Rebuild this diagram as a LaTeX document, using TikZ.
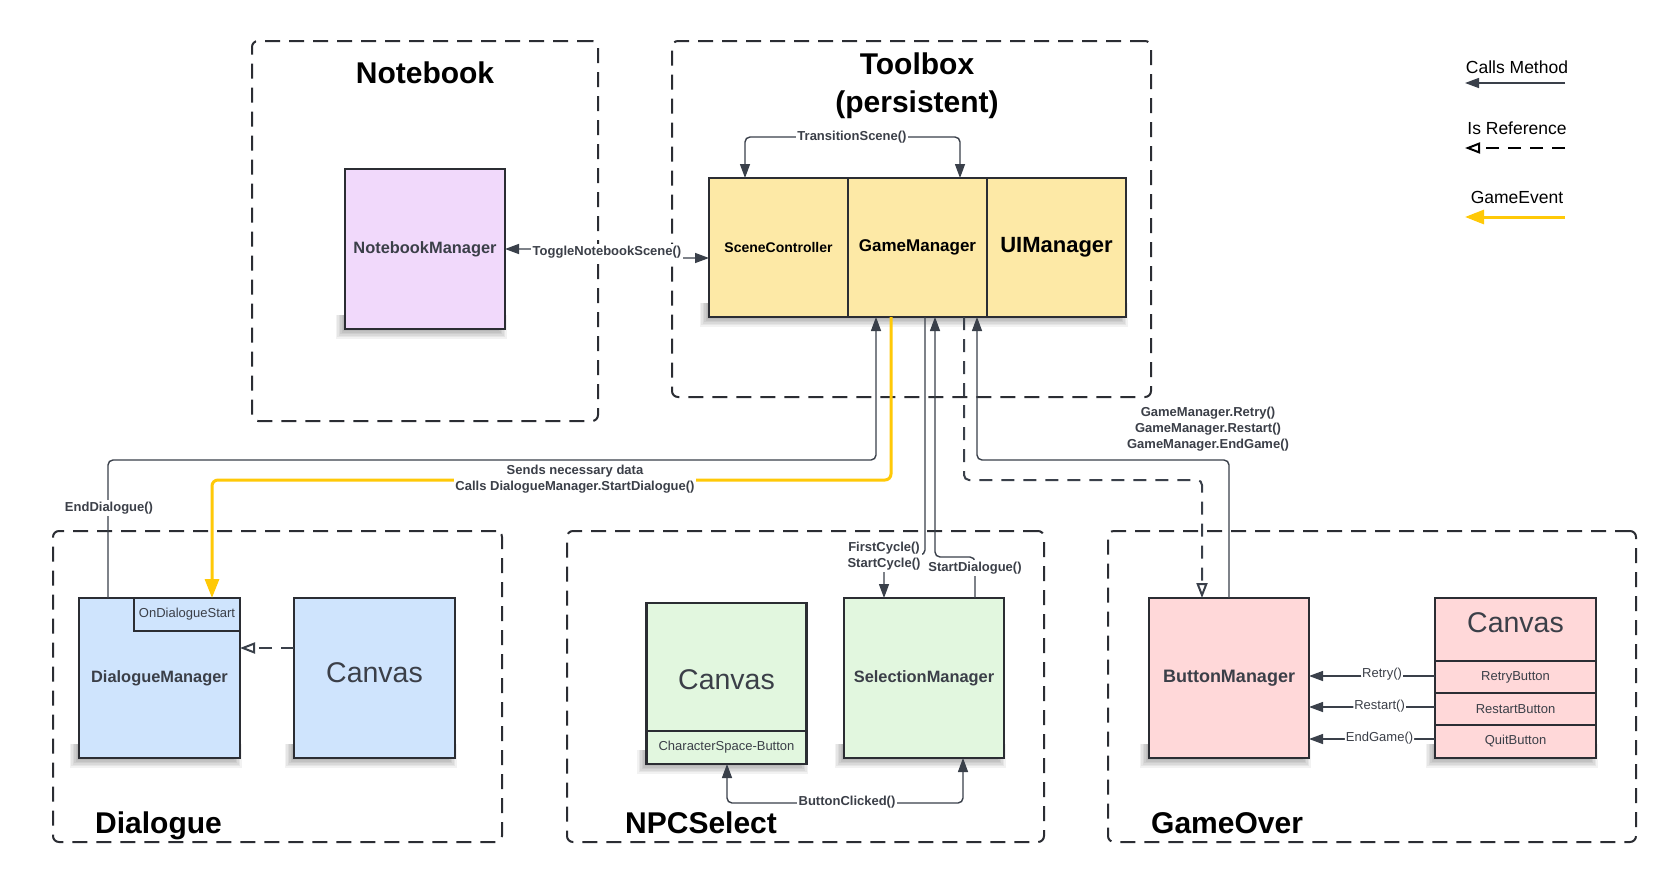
\documentclass[tikz,border=0pt]{standalone}
\usepackage{fontspec}
\setmainfont{Liberation Sans}
\usetikzlibrary{arrows.meta}
\definecolor{ink}{HTML}{2B2D33}
\definecolor{wirec}{HTML}{3A404A}
\definecolor{txtc}{HTML}{3B3F48}
\definecolor{fyel}{HTML}{FDE9A6}
\definecolor{fpur}{HTML}{F1D9FB}
\definecolor{fblu}{HTML}{CFE4FD}
\definecolor{fgrn}{HTML}{E2F7DF}
\definecolor{fpnk}{HTML}{FFD8D9}
\definecolor{gold}{HTML}{FFC907}
\newcommand\fs[2]{\fontsize{#1}{#2}\selectfont}
\newcommand\boxshade[1]{\foreach \k in {0,...,5}{\fill[black, opacity=0.05] ([shift={(-2-1.5*\k,-14)}]#1.south west) rectangle ([shift={(-6+1.5*\k,2+1.5*\k)}]#1.south east);}}
\pgfdeclarelayer{paper}
\pgfdeclarelayer{shade}
\pgfsetlayers{paper,shade,main}
\begin{document}
\begin{tikzpicture}[x=1pt,y=-1pt,
  zone/.style={draw=ink, line width=2pt, dash pattern=on 15pt off 9pt, rounded corners=6pt, inner sep=0pt, outer sep=0pt},
  cbox/.style={draw=ink, line width=2.2pt, inner sep=0pt, outer sep=0pt},
  cell/.style={draw=ink, line width=2.2pt, inner sep=0pt, outer sep=0pt},
  mgr/.style={font=\bfseries\fs{16.4}{20}, text=txtc},
  canv/.style={font=\fs{28.5}{34}, text=txtc, inner sep=0pt},
  smalltxt/.style={font=\fs{13}{16}, text=txtc},
  clab/.style={font=\bfseries\fs{13}{16}, text=txtc, fill=white, inner sep=1.5pt, align=center},
  rlab/.style={font=\fs{13}{16}, text=txtc, fill=white, inner sep=1pt},
  ttl/.style={font=\bfseries\fs{30}{38}, text=black, inner sep=0pt, align=center},
  legt/.style={font=\fs{17.5}{21}, text=black, inner sep=0pt},
  wire/.style={draw=wirec, line width=1.4pt, rounded corners=5pt},
  refw/.style={draw=wirec, line width=2pt, dash pattern=on 13pt off 9pt, rounded corners=5pt},
  evtw/.style={draw=gold, line width=3pt, rounded corners=6pt},
  Call/.tip={Triangle[length=14pt,width=10pt]},
  Ref/.tip={Triangle[open,length=15pt,width=11pt]},
  Evt/.tip={Triangle[length=19pt,width=14pt]},
]
\useasboundingbox (0,0) rectangle (1677,881);
\begin{pgfonlayer}{paper}
\fill[white] (0,0) rectangle (1677,881);
\end{pgfonlayer}

% containers
\node[zone, minimum width=346pt, minimum height=380pt] (nbc) at (425,231) {};
\node[zone, minimum width=479pt, minimum height=356pt] (tbc) at (911.5,219) {};
\node[zone, minimum width=449pt, minimum height=311pt] (dlc) at (277.5,686.5) {};
\node[zone, minimum width=477pt, minimum height=311pt] (npc) at (805.5,686.5) {};
\node[zone, minimum width=528pt, minimum height=311pt] (goc) at (1372,686.5) {};

% titles
\node[ttl] (tnb) at (425,73) {Notebook};
\node[ttl] (ttb) at (917,86) {Toolbox\\(persistent)};
\node[ttl, anchor=base west] (tdl) at (95,833) {Dialogue};
\node[ttl, anchor=base west] (tnp) at (625,833) {NPCSelect};
\node[ttl, anchor=base west] (tgo) at (1151,833) {GameOver};

% boxes
\node[cbox, fill=fpur, minimum width=160pt, minimum height=160pt, mgr] (nbm) at (425,249) {NotebookManager};
\node[cbox, fill=fyel, minimum width=417pt, minimum height=139pt] (tbx) at (917.5,247.5) {};
\node[cell, minimum width=139pt, minimum height=139pt, font=\bfseries\fs{14}{17}, text=black] (sc) at (778.5,247.5) {SceneController};
\node[cell, minimum width=139pt, minimum height=139pt, font=\bfseries\fs{17}{20}, text=black] (gm) at (917.5,247.5) {GameManager};
\node[cell, minimum width=139pt, minimum height=139pt, font=\bfseries\fs{22}{26}, text=black] (ui) at (1056.5,247.5) {UIManager};

\node[cbox, fill=fblu, minimum width=161pt, minimum height=160pt, mgr] (dm) at (159.5,678) {DialogueManager};
\node[cell, minimum width=106pt, minimum height=33pt, smalltxt] (ods) at (187,614.5) {OnDialogueStart};
\node[cbox, fill=fblu, minimum width=161pt, minimum height=160pt] (cd) at (374.5,678) {};
\node[canv] (cdt) at (374.5,673) {Canvas};

\node[cbox, fill=fgrn, minimum width=160pt, minimum height=161pt] (cn) at (726.5,683.5) {};
\node[canv] (cnt) at (726.5,680) {Canvas};
\node[cell, minimum width=160pt, minimum height=33pt, smalltxt] (cnb) at (726.5,747.5) {CharacterSpace-Button};
\node[cbox, fill=fgrn, minimum width=160pt, minimum height=160pt, mgr] (sm) at (924,678) {SelectionManager};

\node[cbox, fill=fpnk, minimum width=160pt, minimum height=160pt, mgr, font=\bfseries\fs{18}{22}] (bm) at (1229,678) {ButtonManager};
\node[cbox, fill=fpnk, minimum width=161pt, minimum height=160pt] (cg) at (1515.5,678) {};
\node[canv] (cgt) at (1515.5,623) {Canvas};
\node[cell, minimum width=161pt, minimum height=32pt, smalltxt] (rb) at (1515.5,677) {RetryButton};
\node[cell, minimum width=161pt, minimum height=32pt, smalltxt] (rsb) at (1515.5,709) {RestartButton};
\node[cell, minimum width=161pt, minimum height=33pt, smalltxt] (qb) at (1515.5,741.5) {QuitButton};

% soft shadows under the boxes
\begin{pgfonlayer}{shade}
\boxshade{nbm}
\boxshade{tbx}
\boxshade{dm}
\boxshade{cd}
\boxshade{cn}
\boxshade{sm}
\boxshade{bm}
\boxshade{cg}
\end{pgfonlayer}

% TransitionScene
\coordinate (tsL) at (745,137);
\coordinate (tsR) at (960,137);
\draw[wire, Call-Call] (tsL |- sc.north) -- (tsL) -- (tsR) -- (tsR |- gm.north);
\node[clab] (ltsn) at (852,137) {TransitionScene()};

% ToggleNotebookScene
\coordinate (tg1) at (601,249);
\coordinate (tg2) at (601,258);
\draw[wire, Call-Call] (tg1 -| nbm.east) -- (tg1) -- (tg2) -- (tg2 -| sc.west);
\node[clab] (ltg) at (607,252) {ToggleNotebookScene()};

% EndDialogue
\coordinate (ed1) at (108,460);
\coordinate (ed2) at (876,460);
\draw[wire, -Call] (ed1 |- dm.north) -- (ed1) -- (ed2) -- (ed2 |- gm.south);
\node[clab] (led) at (109,508) {EndDialogue()};

% Game event
\coordinate (ev1) at (891,480);
\coordinate (ev2) at (212,480);
\draw[evtw, -Evt] (ev1 |- gm.south) -- (ev1) -- (ev2) -- (ev2 |- ods.north);
\node[clab] (lev) at (575,479) {Sends necessary data\\Calls DialogueManager.StartDialogue()};

% FirstCycle / StartCycle
\coordinate (fc1) at (925,555);
\coordinate (fc2) at (884,555);
\draw[wire, -Call] (fc1 |- gm.south) -- (fc1) -- (fc2) -- (fc2 |- sm.north);
\node[clab] (lfc) at (884,556) {FirstCycle()\\StartCycle()};

% StartDialogue
\coordinate (sd1) at (975,557);
\coordinate (sd2) at (935,557);
\draw[wire, -Call] (sd1 |- sm.north) -- (sd1) -- (sd2) -- (sd2 |- gm.south);
\node[clab] (lsd) at (975,568) {StartDialogue()};

% reference GameManager -> ButtonManager
\coordinate (rf1) at (964,480);
\coordinate (rf2) at (1202,480);
\draw[refw, -Ref] (rf1 |- gm.south) -- (rf1) -- (rf2) -- (rf2 |- bm.north);

% ButtonManager -> GameManager
\coordinate (gr1) at (1229,460);
\coordinate (gr2) at (977,460);
\draw[wire, -Call] (gr1 |- bm.north) -- (gr1) -- (gr2) -- (gr2 |- gm.south);
\node[clab, fill=none] (lgr) at (1208,429) {GameManager.Retry()\\GameManager.Restart()\\GameManager.EndGame()};

% ButtonClicked
\coordinate (bc1) at (727,803);
\coordinate (bc2) at (963,803);
\draw[wire, Call-Call] (bc1 |- cn.south) -- (bc1) -- (bc2) -- (bc2 |- sm.south);
\node[clab] (lbc) at (847,802) {ButtonClicked()};

% GameOver buttons
\coordinate (ra) at (1400,676);
\coordinate (rs) at (1400,707);
\coordinate (re) at (1400,739);
\draw[wire, -Call] (ra -| cg.west) -- node[rlab, pos=0.42, yshift=1.5pt] {Retry()} (ra -| bm.east);
\draw[wire, -Call] (rs -| cg.west) -- node[rlab, pos=0.44, yshift=1pt] {Restart()} (rs -| bm.east);
\draw[wire, -Call] (re -| cg.west) -- node[rlab, pos=0.44, yshift=1pt] {EndGame()} (re -| bm.east);

% Dialogue canvas reference
\coordinate (dr) at (267,648);
\draw[refw, -Ref] (dr -| cd.west) -- (dr -| dm.east);

% legend
\node[legt] (lg1) at (1517,67) {Calls Method};
\coordinate (lg1a) at (1565,83);
\coordinate (lg1b) at (1465,83);
\draw[wire, -Call] (lg1a) -- (lg1b);
\node[legt] (lg2) at (1517,128) {Is Reference};
\coordinate (lg2a) at (1565,148);
\coordinate (lg2b) at (1465,148);
\draw[refw, draw=black, -Ref] (lg2a) -- (lg2b);
\node[legt] (lg3) at (1517,197) {GameEvent};
\coordinate (lg3a) at (1565,217);
\coordinate (lg3b) at (1465,217);
\draw[evtw, -Evt] (lg3a) -- (lg3b);
\end{tikzpicture}
\end{document}
